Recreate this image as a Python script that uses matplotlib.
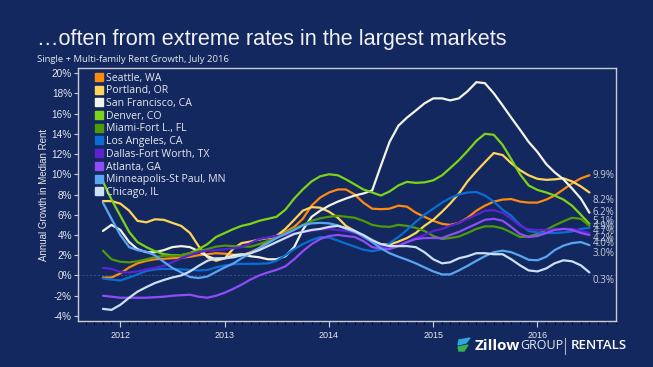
import matplotlib
matplotlib.use("Agg")
import matplotlib.pyplot as plt
import matplotlib.dates as mdates
import pandas as pd
from matplotlib.lines import Line2D
from matplotlib.patches import Polygon

months = pd.date_range("2011-11-01", "2016-07-01", freq="MS")

series_names = ["Seattle, WA", "Portland, OR", "San Francisco, CA", "Denver, CO",
                "Miami-Fort L., FL", "Los Angeles, CA", "Dallas-Fort Worth, TX",
                "Atlanta, GA", "Minneapolis-St Paul, MN", "Chicago, IL"]

seattle = [-0.2, -0.2, 0.2, 0.8, 1.2, 1.45, 1.6, 1.65, 1.7, 1.75,
           1.85, 2.0, 2.1, 2.2, 2.15, 2.05, 2.0, 2.3, 2.7, 3.4,
           3.9, 4.3, 4.8, 5.6, 6.9, 7.7, 8.2, 8.5, 8.5, 8.0,
           7.2, 6.6, 6.55, 6.6, 6.9, 6.8, 6.2, 5.8, 5.4, 5.1,
           5.0, 5.2, 5.7, 6.4, 6.9, 7.3, 7.5, 7.55, 7.3, 7.2,
           7.2, 7.5, 7.9, 8.5, 9.1, 9.6, 9.9]
portland = [7.35, 7.35, 7.1, 6.4, 5.4, 5.25, 5.55, 5.5, 5.2, 4.9,
            4.2, 2.9, 1.8, 1.45, 1.7, 2.7, 3.2, 3.35, 3.55, 3.7,
            3.9, 4.6, 5.5, 6.4, 6.75, 6.7, 6.3, 5.7, 4.9, 4.4,
            3.8, 3.35, 3.1, 3.05, 3.35, 3.7, 4.2, 4.9, 5.5, 6.3,
            7.1, 8.1, 9.3, 10.3, 11.2, 12.1, 11.9, 11.1, 10.4, 9.9,
            9.55, 9.45, 9.5, 9.6, 9.3, 8.8, 8.2]
san_francisco = [4.4, 5.0, 4.5, 3.3, 2.6, 2.3, 2.3, 2.5, 2.8, 2.9,
                 2.8, 2.4, 1.9, 1.6, 1.7, 2.0, 2.1, 1.9, 1.8, 1.6,
                 1.6, 1.9, 2.8, 4.5, 5.8, 6.4, 6.9, 7.3, 7.6, 7.9,
                 8.1, 8.4, 10.8, 13.2, 14.8, 15.6, 16.3, 17.0, 17.5, 17.5,
                 17.3, 17.5, 18.2, 19.1, 19.0, 18.0, 16.8, 15.6, 14.4, 13.2,
                 12.2, 11.0, 10.2, 9.5, 8.6, 7.6, 6.2]
denver = [9.3, 7.5, 5.9, 4.3, 3.3, 2.8, 2.4, 2.1, 2.0, 2.0,
          2.2, 2.6, 3.1, 3.8, 4.2, 4.6, 4.9, 5.1, 5.4, 5.6,
          5.8, 6.5, 7.6, 8.5, 9.3, 9.8, 10.0, 9.9, 9.5, 9.0,
          8.5, 8.2, 7.9, 8.3, 8.9, 9.25, 9.15, 9.2, 9.4, 9.9,
          10.6, 11.4, 12.3, 13.3, 14.0, 13.9, 12.9, 11.5, 10.0, 8.9,
          8.45, 8.2, 7.9, 7.5, 6.9, 6.0, 5.1]
miami = [2.45, 1.6, 1.35, 1.3, 1.4, 1.6, 1.8, 1.95, 1.95, 2.0,
         2.2, 2.4, 2.6, 2.85, 2.95, 2.9, 2.85, 2.85, 3.1, 3.4,
         3.7, 4.2, 4.6, 5.0, 5.4, 5.65, 5.8, 5.9, 5.8, 5.7,
         5.4, 5.0, 4.85, 4.8, 5.0, 4.9, 4.7, 4.4, 3.9, 3.6,
         3.7, 3.85, 4.2, 4.6, 4.85, 4.85, 4.65, 4.25, 3.8, 3.85,
         4.1, 4.5, 4.95, 5.35, 5.7, 5.6, 4.9]
los_angeles = [-0.3, -0.4, -0.5, -0.2, 0.1, 0.45, 0.6, 0.65, 0.65, 0.6,
               0.55, 0.5, 0.55, 0.8, 1.0, 1.1, 1.15, 1.15, 1.15, 1.2,
               1.45, 2.0, 2.6, 3.1, 3.5, 3.8, 3.75, 3.45, 3.15, 2.85,
               2.55, 2.4, 2.55, 3.2, 3.8, 4.5, 5.3, 6.0, 6.6, 7.2,
               7.65, 8.0, 8.2, 8.25, 7.9, 7.3, 6.5, 5.9, 5.0, 4.4,
               4.25, 4.2, 4.2, 4.25, 4.35, 4.6, 4.7]
dallas = [0.75, 0.65, 0.35, 0.3, 0.4, 0.6, 0.75, 0.95, 1.3, 1.7,
          2.0, 2.3, 2.45, 2.5, 2.6, 2.7, 2.8, 3.2, 3.6, 3.75,
          3.9, 4.0, 4.15, 4.3, 4.4, 4.55, 4.6, 4.5, 4.4, 4.2,
          3.8, 3.3, 2.9, 2.75, 3.0, 3.3, 3.7, 4.0, 4.4, 4.6,
          4.9, 5.2, 5.6, 6.0, 6.4, 6.45, 6.2, 5.6, 4.9, 4.55,
          4.5, 4.5, 4.55, 4.6, 4.6, 4.4, 4.2]
atlanta = [-2.0, -2.1, -2.2, -2.2, -2.2, -2.2, -2.15, -2.1, -2.0, -1.95,
           -1.9, -2.1, -2.2, -2.0, -1.7, -1.3, -0.9, -0.4, 0.0, 0.3,
           0.55, 0.9, 1.6, 2.4, 3.1, 3.6, 3.9, 4.0, 3.9, 3.8,
           3.4, 2.8, 2.65, 2.6, 2.9, 3.3, 3.6, 3.7, 3.7, 3.7,
           4.0, 4.3, 4.7, 5.1, 5.5, 5.6, 5.4, 4.8, 4.1, 3.8,
           3.9, 4.2, 4.5, 4.6, 4.5, 4.2, 4.0]
minneapolis = [7.2, 5.6, 4.0, 2.8, 2.5, 2.35, 2.0, 1.35, 0.75, 0.3,
               -0.15, -0.25, -0.1, 0.35, 0.8, 1.2, 1.7, 2.2, 2.7, 3.2,
               3.7, 4.1, 4.5, 4.95, 5.15, 5.2, 5.15, 4.95, 4.6, 4.3,
               3.9, 3.3, 2.7, 2.2, 1.85, 1.55, 1.2, 0.8, 0.4, 0.1,
               0.1, 0.5, 0.95, 1.45, 1.9, 2.3, 2.45, 2.3, 1.95, 1.55,
               1.5, 1.85, 2.5, 2.95, 3.2, 3.3, 3.0]
chicago = [-3.3, -3.4, -2.9, -2.2, -1.6, -1.15, -0.75, -0.45, -0.2, 0.0,
           0.4, 0.95, 1.45, 1.7, 1.7, 1.8, 2.0, 2.2, 2.5, 2.9,
           3.3, 3.7, 4.1, 4.3, 4.5, 4.6, 4.8, 4.9, 4.7, 4.4,
           4.0, 3.5, 3.1, 2.9, 2.9, 2.9, 2.8, 2.3, 1.6, 1.2,
           1.3, 1.7, 1.9, 2.2, 2.2, 2.1, 2.1, 1.6, 1.0, 0.5,
           0.4, 0.7, 1.2, 1.5, 1.4, 1.0, 0.3]

all_series = [seattle, portland, san_francisco, denver, miami,
              los_angeles, dallas, atlanta, minneapolis, chicago]
colors = ["#FF8A10", "#FFD45A", "#F2F4E6", "#7FD317", "#4F9A0A",
          "#0B6DD3", "#5B22CF", "#8F4DF7", "#58A6F2", "#CCE0F6"]
end_labels = ["9.9%", "8.2%", "6.2%", "5.1%", "4.9%", "4.7%", "4.2%", "4.0%", "3.0%", "0.3%"]
label_dy = [0, -8, 0, 2, -1, -4, -6, -9, -8, -8]  # pixel offsets of end labels

BG = "#13285E"
AX_C = "#C9CCD6"
TXT = "#E6E8EE"

fig = plt.figure(figsize=(6.53, 3.67), dpi=100, facecolor=BG)
ax = fig.add_axes([0.1187, 0.1253, 0.9433 - 0.1187, 0.8147 - 0.1253], facecolor=BG)

ax.axhline(0, color="#3E5282", lw=0.7, ls=(0, (2, 2)), zorder=1)
for vals, col in zip(all_series, colors):
    ax.plot(months, vals, color=col, lw=1.6, solid_capstyle="round", zorder=3)

for vals, lab, dy in zip(all_series, end_labels, label_dy):
    ax.annotate(lab, xy=(months[-1], vals[-1]), xytext=(3, dy), textcoords="offset pixels",
                va="center", ha="left", color="#C9CDD8", fontsize=7.0, family="Open Sans",
                annotation_clip=False)

ax.set_ylim(-4.5, 20.5)
ax.set_xlim(pd.Timestamp("2011-08-04"), pd.Timestamp("2016-10-02"))
ax.set_yticks(range(-4, 21, 2))
ax.set_yticklabels([f"{v}%" for v in range(-4, 21, 2)])
ax.xaxis.set_major_locator(mdates.YearLocator())
ax.xaxis.set_major_formatter(mdates.DateFormatter("%Y"))
ax.xaxis.set_minor_locator(mdates.MonthLocator())

for sp in ax.spines.values():
    sp.set_color(AX_C)
    sp.set_linewidth(1.0)
ax.tick_params(axis="both", colors=AX_C, labelcolor=TXT)
ax.tick_params(axis="y", which="major", length=3, width=0.8, labelsize=7.2, pad=1)
ax.tick_params(axis="x", which="major", length=4, width=0.8, labelsize=6.5, pad=3)
ax.tick_params(axis="x", which="minor", length=2, width=0.6)
for lab in ax.get_yticklabels() + ax.get_xticklabels():
    lab.set_family("Liberation Sans")

ax.set_ylabel("Annual Growth in Median Rent", color=TXT, fontsize=7, family="Liberation Sans", labelpad=2)

handles = [Line2D([], [], marker="s", ls="", color=c, markersize=5.5) for c in colors]
leg = ax.legend(handles, series_names, loc="upper left", bbox_to_anchor=(0.022, 0.998),
                frameon=False, handletextpad=0.15, labelspacing=0.16, borderaxespad=0.0,
                prop={"family": "Open Sans", "size": 7.6}, handlelength=1.0)
for t in leg.get_texts():
    t.set_color(TXT)

fig.text(0.057, 0.893, "\u2026often from extreme rates in the largest markets", color="#F0F1F5",
         fontsize=15.6, family="Liberation Sans", va="center", ha="left")
fig.text(0.057, 0.838, "Single + Multi-family Rent Growth, July 2016", color=TXT,
         fontsize=6.8, family="Open Sans", va="center", ha="left")

# logo
def fig_poly(pts, color):
    fig.patches.append(Polygon([(x / 653, 1 - y / 367) for x, y in pts], closed=True,
                               transform=fig.transFigure, color=color, figure=fig))
fig_poly([(459, 340), (470, 338), (466, 343), (458, 345)], "#2EA6E0")
fig_poly([(458, 347), (468, 345), (464, 351), (459, 351)], "#37B24D")
fig.text(0.7275, 0.058, "Zillow", color="white", fontsize=11, fontweight="bold",
         family="Open Sans", va="center", ha="left")
fig.text(0.797, 0.058, "GROUP", color="#E8EAF0", fontsize=9, family="Open Sans",
         va="center", ha="left")
fig.lines.append(Line2D([565 / 653] * 2, [1 - 338 / 367, 1 - 354 / 367],
                        transform=fig.transFigure, color="#AEB4C6", lw=0.8))
fig.text(0.874, 0.058, "RENTALS", color="white", fontsize=9.5, fontweight="semibold",
         family="Open Sans", va="center", ha="left")

fig.savefig("out.png", dpi=100, facecolor=BG)
